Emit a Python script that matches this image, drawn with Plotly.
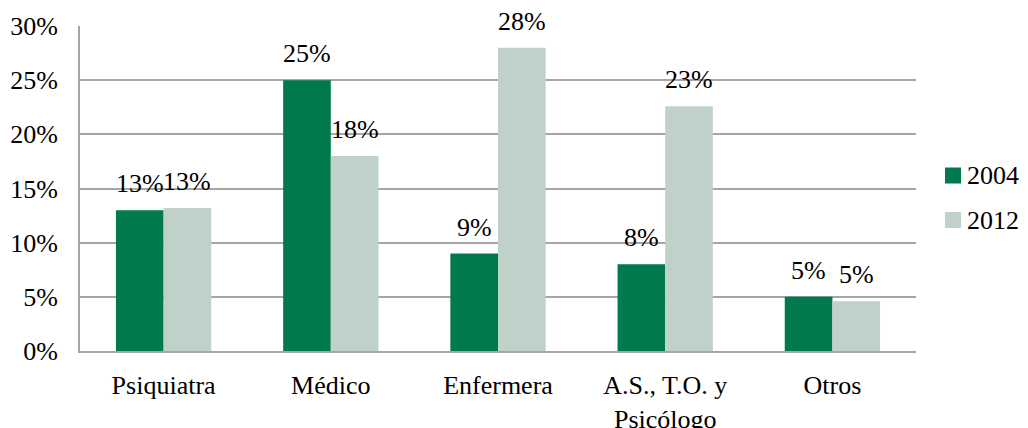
import plotly.graph_objects as go

categories = ["Psiquiatra", "Médico", "Enfermera", "A.S., T.O. y<br>Psicólogo", "Otros"]
series_names = ["2004", "2012"]
values_2004 = [13.0, 25.0, 9.0, 8.0, 5.0]
values_2012 = [13.2, 18.0, 28.0, 22.6, 4.6]
tick_vals = [0, 5, 10, 15, 20, 25, 30]
tick_text = ["0%", "5%", "10%", "15%", "20%", "25%", "30%"]

colors = ["#007A4C", "#BFD1C8"]
FONT = "Liberation Serif"
FS = 26

# page body has an 8px default margin, so the figure is 8px smaller each way
W, H = 1020, 420
ML, MR, MT, MB = 72, 112, 18, 77
plot_w = W - ML - MR
plot_h = H - MT - MB

def px_x(px):
    return (px - ML) / plot_w

def px_y(py):
    return (H - MB - py) / plot_h

fig = go.Figure()
for name, vals, col in zip(series_names, [values_2004, values_2012], colors):
    fig.add_trace(go.Bar(
        x=categories, y=vals, name=name,
        marker=dict(color=col, line=dict(width=0)),
        showlegend=False,
    ))

# data labels above bars
cat_w = plot_w / len(categories)
bar_w = cat_w * (1 - 0.43) / 2
annotations = []
for i, vals in enumerate([values_2004, values_2012]):
    shift = (-0.5 if i == 0 else 0.5) * bar_w
    for c, v in zip(categories, vals):
        annotations.append(dict(
            x=c, y=v, xref="x", yref="y", text=f"{round(v):.0f}%",
            showarrow=False, yanchor="bottom", xanchor="center",
            xshift=shift, yshift=10,
            font=dict(family=FONT, size=FS, color="black"),
        ))

# legend drawn as square swatches + text
shapes = []
leg_centers = [167.5, 212]
for name, col, cy in zip(series_names, colors, leg_centers):
    shapes.append(dict(
        type="rect", xref="paper", yref="paper",
        x0=px_x(937), x1=px_x(953), y0=px_y(cy + 8), y1=px_y(cy - 8),
        fillcolor=col, line=dict(width=0),
    ))
    annotations.append(dict(
        x=px_x(957), y=px_y(cy), xref="paper", yref="paper", text=name,
        showarrow=False, xanchor="left", yanchor="middle",
        font=dict(family=FONT, size=FS, color="black"),
    ))

fig.update_layout(
    width=W, height=H,
    margin=dict(l=ML, r=MR, t=MT, b=MB, autoexpand=False),
    paper_bgcolor="white", plot_bgcolor="white",
    barmode="group", bargap=0.43, bargroupgap=0,
    font=dict(family=FONT, size=FS, color="black"),
    annotations=annotations,
    shapes=shapes,
    showlegend=False,
)
fig.update_xaxes(
    showline=True, linecolor="#A6A6A6", linewidth=2,
    showgrid=False, ticks="", tickfont=dict(family=FONT, size=FS),
    ticklabelstandoff=10, automargin=False,
)
fig.update_yaxes(
    range=[0, 30], tickvals=tick_vals, ticktext=tick_text,
    showline=True, linecolor="#A6A6A6", linewidth=2,
    showgrid=True, gridcolor="#A6A6A6", gridwidth=1.5,
    zeroline=False, ticks="", tickfont=dict(family=FONT, size=FS),
    ticklabelstandoff=15, automargin=False,
)

fig.write_html("out.html")
